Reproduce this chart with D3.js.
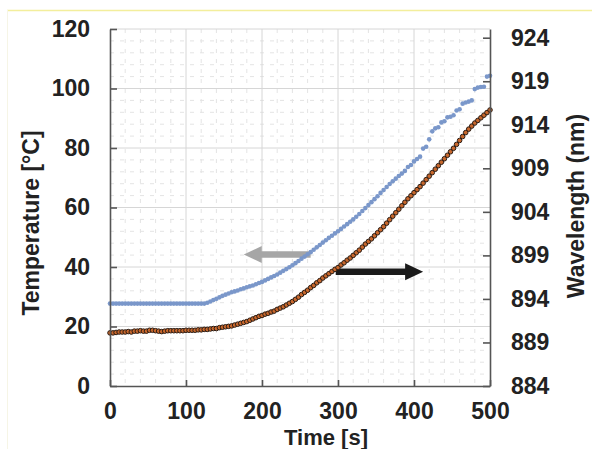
<!DOCTYPE html>
<script src="https://d3js.org/d3.v7.min.js"></script>
<style>
  body { margin: 0; background: #fff; }
  text { font-family: "Liberation Sans", Arial, sans-serif; font-weight: bold; }
</style>
<svg></svg>
<script>
    // sample times (s)
    const time = [0,4,8,12,16,20,24,28,32,36,40,44,48,52,56,60,64,68,72,76,80,84,88,92,96,100,
        104,108,112,116,120,124,128,132,136,140,144,148,152,156,160,164,168,172,176,180,184,188,192,196,200,
        204,208,212,216,220,224,228,232,236,240,244,248,252,256,260,264,268,272,276,280,284,288,292,296,300,
        304,308,312,316,320,324,328,332,336,340,344,348,352,356,360,364,368,372,376,380,384,388,392,396,400,
        404,408,412,416,420,424,428,432,436,440,444,448,452,456,460,464,468,472,476,480,484,488,492,496,500];

    // temperature (°C), left axis
    const temperature = [27.7,27.7,27.7,27.7,27.7,27.7,27.7,27.7,27.7,27.7,27.7,27.7,27.7,27.7,27.7,27.7,
        27.7,27.7,27.7,27.7,27.7,27.7,27.7,27.7,27.7,27.7,27.7,27.7,27.7,27.7,27.7,27.7,
        28.0,28.4,28.9,29.3,29.8,30.3,30.7,31.1,31.5,31.8,32.1,32.5,32.8,33.2,33.5,33.8,34.2,34.6,35.0,
        35.5,36.0,36.5,37.0,37.5,38.1,38.7,39.3,39.9,40.6,41.3,42.0,42.8,43.5,44.3,45.0,45.8,46.6,47.4,48.2,
        49.0,49.8,50.5,51.3,52.0,52.8,53.6,54.4,55.2,56.0,56.9,57.8,58.8,59.8,60.8,61.8,62.8,63.8,64.9,65.9,
        66.9,67.9,68.8,69.7,70.6,71.4,72.3,73.6,74.3,75.5,76.3,77.1,79.8,80.4,82.9,85.6,86.6,87.0,88.6,89.0,
        90.3,90.5,91.0,92.6,93.0,94.9,95.3,95.6,96.0,99.8,100.3,100.5,100.6,104.0,104.3];

    // wavelength (nm), right axis
    const wavelength = [890.1,890.1,890.15,890.2,890.2,890.2,890.25,890.2,890.3,890.3,890.35,890.3,890.3,
        890.4,890.4,890.35,890.3,890.25,890.3,890.35,890.35,890.35,890.35,890.35,890.35,890.4,890.4,890.4,
        890.4,890.45,890.45,890.5,
        890.5,890.55,890.6,890.6,890.7,890.75,890.8,890.85,890.9,891.0,891.1,891.2,891.3,891.4,891.55,891.7,
        891.85,892.0,892.1,892.25,892.35,892.5,892.6,892.8,892.95,893.1,893.3,893.5,893.7,893.95,894.2,894.5,
        894.75,895.0,895.3,895.55,895.85,896.1,896.4,896.65,896.9,897.15,897.4,897.6,897.9,898.15,898.45,
        898.7,899.0,899.3,899.6,899.95,900.3,900.6,900.9,901.25,901.6,901.95,902.3,902.7,903.1,903.5,903.9,
        904.3,904.7,905.1,905.5,905.85,906.2,906.55,906.9,907.3,907.7,908.1,908.5,908.9,909.3,909.7,910.1,
        910.5,910.9,911.3,911.75,912.2,912.65,913.1,913.5,913.85,914.2,914.5,914.8,915.1,915.4,915.7];

    const xTicks = [0, 100, 200, 300, 400, 500];
    const tempTicks = [0, 20, 40, 60, 80, 100, 120];
    const waveTicks = [884, 889, 894, 899, 904, 909, 914, 919, 924];

    // annotation arrows: [from time, to time, temperature level]
    const arrows = [
        {from: 264, to: 176, level: 44.2, color: "#a6a6a6"},
        {from: 297, to: 412, level: 38.4, color: "#1a1a1a"}
    ];

    const W = 592, H = 449;
    const margin = {top: 29, right: 102, bottom: 63, left: 110};

    const svg = d3.select("svg").attr("width", W).attr("height", H);
    svg.append("rect").attr("width", W).attr("height", H).attr("fill", "#fff");

    // faint page frame
    svg.append("line").attr("x1", 7).attr("x2", W).attr("y1", 10.5).attr("y2", 10.5)
        .attr("stroke", "#f3ee9c").attr("stroke-width", 1.5);
    svg.append("line").attr("x1", 7.5).attr("x2", 7.5).attr("y1", 10).attr("y2", H)
        .attr("stroke", "#f6f5e6").attr("stroke-width", 1);

    const x = d3.scaleLinear().domain([0, 500]).range([margin.left, W - margin.right]);
    const yT = d3.scaleLinear().domain([0, 120]).range([H - margin.bottom, margin.top]);
    const yW = d3.scaleLinear().domain([884, 925]).range([H - margin.bottom, margin.top]);

    // minor dashed grid
    const grid = svg.append("g");
    grid.selectAll(".vminor").data(d3.range(20, 500, 20).filter(d => d % 100 !== 0)).join("line")
        .attr("x1", d => x(d)).attr("x2", d => x(d)).attr("y1", yT(120)).attr("y2", yT(0))
        .attr("stroke", "#e4e4e4").attr("stroke-dasharray", "4,6");
    grid.selectAll(".hminor").data(d3.range(4, 120, 4).filter(d => d % 20 !== 0)).join("line")
        .attr("x1", x(0)).attr("x2", x(500)).attr("y1", d => yT(d)).attr("y2", d => yT(d))
        .attr("stroke", "#e4e4e4").attr("stroke-dasharray", "4,6");
    // major grid
    grid.selectAll(".vmajor").data(xTicks.slice(1, -1)).join("line")
        .attr("x1", d => x(d)).attr("x2", d => x(d)).attr("y1", yT(120)).attr("y2", yT(0))
        .attr("stroke", "#d6d6d6");
    grid.selectAll(".hmajor").data(tempTicks.slice(1)).join("line")
        .attr("x1", x(0)).attr("x2", x(500)).attr("y1", d => yT(d)).attr("y2", d => yT(d))
        .attr("stroke", "#d6d6d6");

    // arrows
    arrows.forEach(a => {
        const x0 = x(a.from), x1 = x(a.to), y0 = yT(a.level);
        const dir = Math.sign(x1 - x0), head = 18, hw = 8.5, sw = 3.2;
        const xb = x1 - dir * head;
        svg.append("path")
            .attr("d", `M${x0},${y0 - sw}L${xb},${y0 - sw}L${xb},${y0 - hw}L${x1},${y0}L${xb},${y0 + hw}L${xb},${y0 + sw}L${x0},${y0 + sw}Z`)
            .attr("fill", a.color);
    });

    const tData = time.map((t, i) => ({t, v: temperature[i]}));
    const wData = time.map((t, i) => ({t, v: wavelength[i]}));

    // temperature markers
    svg.append("g").selectAll("circle").data(tData).join("circle")
        .attr("cx", d => x(d.t)).attr("cy", d => yT(d.v)).attr("r", 2.3)
        .attr("fill", "#7a97ca");

    // wavelength line + markers
    svg.append("path").datum(wData)
        .attr("fill", "none").attr("stroke", "#2a1c14").attr("stroke-width", 1.2)
        .attr("d", d3.line().x(d => x(d.t)).y(d => yW(d.v)));
    svg.append("g").selectAll("circle").data(wData).join("circle")
        .attr("cx", d => x(d.t)).attr("cy", d => yW(d.v)).attr("r", 2.3)
        .attr("fill", "#c8672c").attr("stroke", "#2a1c14").attr("stroke-width", 1);

    // axes
    function style(g) {
        g.select(".domain").attr("stroke", "#555").attr("stroke-width", 1.6);
        g.selectAll(".tick line").attr("stroke", "#555").attr("stroke-width", 1.6);
        g.selectAll(".tick text").attr("fill", "#222").style("font-size", "23px")
            .style("font-family", "'Liberation Sans', Arial, sans-serif").style("font-weight", "bold");
    }
    svg.append("g").attr("transform", `translate(0,${yT(0)})`)
        .call(d3.axisBottom(x).tickValues(xTicks).tickSizeInner(-6).tickSizeOuter(0).tickPadding(17))
        .call(style);
    svg.append("g").attr("transform", `translate(${x(0)},0)`)
        .call(d3.axisLeft(yT).tickValues(tempTicks).tickSizeInner(-7).tickSizeOuter(0).tickPadding(20))
        .call(style);
    svg.append("g").attr("transform", `translate(${x(500)},0)`)
        .call(d3.axisRight(yW).tickValues(waveTicks).tickSizeInner(-7).tickSizeOuter(0).tickPadding(21))
        .call(style);

    // axis titles
    svg.append("text").attr("x", 326).attr("y", 445).attr("text-anchor", "middle")
        .attr("fill", "#222").style("font-size", "22px").text("Time [s]");
    svg.append("text").attr("transform", "translate(39,223) rotate(-90)").attr("text-anchor", "middle")
        .attr("fill", "#222").style("font-size", "23px").text("Temperature [°C]");
    svg.append("text").attr("transform", "translate(584,206) rotate(-90)").attr("text-anchor", "middle")
        .attr("fill", "#222").style("font-size", "23px").text("Wavelength (nm)");
</script>
